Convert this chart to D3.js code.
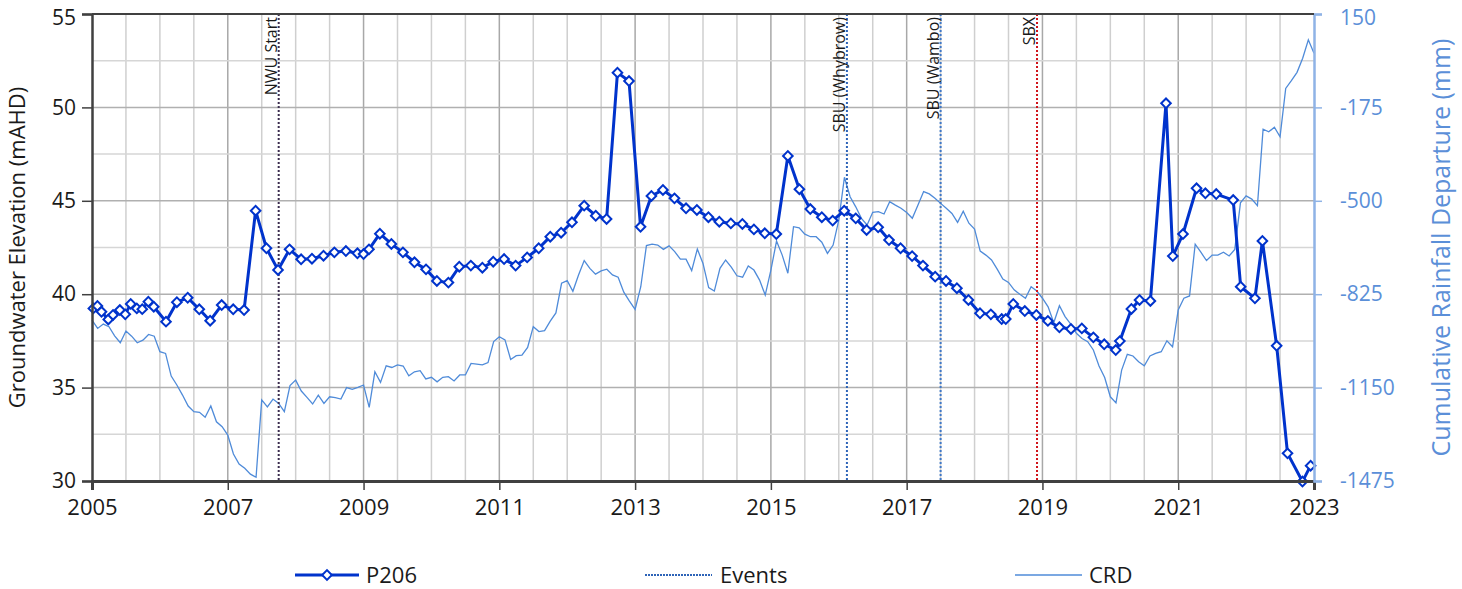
<!DOCTYPE html>
<html>
<head>
<meta charset="utf-8">
<script src="https://cdn.jsdelivr.net/npm/d3@7"></script>
<style>
  body { margin: 0; background: #fff; }
  text { font-family: "Open Sans", "Noto Sans", sans-serif; }
</style>
</head>
<body>
<svg id="chart"></svg>
<script>
// groundwater level at P206 (decimal year, mAHD)
const p206Dates = [
  2005.02, 2005.08, 2005.14, 2005.24, 2005.31, 2005.41, 2005.49, 2005.57, 2005.66, 2005.74, 2005.83, 2005.91,
  2006.09, 2006.25, 2006.41, 2006.58, 2006.74, 2006.91, 2007.08, 2007.24, 2007.41, 2007.57, 2007.74, 2007.91,
  2008.08, 2008.24, 2008.41, 2008.57, 2008.74, 2008.91, 2009.0, 2009.08, 2009.24, 2009.41, 2009.58, 2009.75,
  2009.92, 2010.08, 2010.25, 2010.41, 2010.58, 2010.75, 2010.91, 2011.07, 2011.24, 2011.41, 2011.58, 2011.75,
  2011.91, 2012.07, 2012.25, 2012.42, 2012.58, 2012.74, 2012.91, 2013.08, 2013.24, 2013.41, 2013.58, 2013.75,
  2013.91, 2014.08, 2014.24, 2014.41, 2014.58, 2014.75, 2014.91, 2015.08, 2015.25, 2015.42, 2015.58, 2015.75,
  2015.91, 2016.08, 2016.25, 2016.41, 2016.58, 2016.74, 2016.91, 2017.08, 2017.24, 2017.42, 2017.58, 2017.74,
  2017.91, 2018.08, 2018.24, 2018.40, 2018.46, 2018.57, 2018.74, 2018.91, 2019.08, 2019.25, 2019.42, 2019.58,
  2019.75, 2019.91, 2020.08, 2020.14, 2020.31, 2020.43, 2020.59, 2020.82, 2020.92, 2021.07, 2021.27, 2021.40,
  2021.56, 2021.81, 2021.92, 2022.13, 2022.24, 2022.45, 2022.61, 2022.83, 2022.95
];
const p206Values = [
  39.24, 39.37, 39.06, 38.65, 38.89, 39.15, 38.92, 39.48, 39.24, 39.2, 39.6, 39.33,
  38.53, 39.57, 39.81, 39.19, 38.58, 39.42, 39.19, 39.15, 44.47, 42.46, 41.3, 42.4,
  41.87, 41.9, 42.06, 42.24, 42.31, 42.19, 42.15, 42.4, 43.24, 42.69, 42.24, 41.71,
  41.33, 40.71, 40.62, 41.47, 41.53, 41.42, 41.74, 41.88, 41.53, 41.97, 42.46, 43.08,
  43.29, 43.85, 44.74, 44.2, 44.03, 51.86, 51.41, 43.61, 45.26, 45.58, 45.13, 44.6,
  44.51, 44.12, 43.88, 43.79, 43.76, 43.47, 43.26, 43.22, 47.4, 45.62, 44.56, 44.12,
  43.94, 44.47, 44.06, 43.44, 43.58, 42.9, 42.46, 42.04, 41.53, 40.94, 40.71, 40.32,
  39.69, 38.98, 38.92, 38.67, 38.67, 39.48, 39.1, 38.89, 38.57, 38.23, 38.14, 38.17,
  37.69, 37.32, 37.01, 37.49, 39.21, 39.69, 39.64, 50.22, 42.04, 43.22, 45.67, 45.4,
  45.36, 45.04, 40.4, 39.78, 42.85, 37.24, 31.48, 29.97, 30.82
];

// cumulative rainfall departure, monthly from Jan 2005 (mm)
const crdStartYear = 2005;
const crdValues = [
  -915, -944, -929, -938, -970, -994, -953, -971, -994, -985, -965, -971,
  -1025, -1031, -1110, -1141, -1176, -1214, -1234, -1236, -1253, -1214, -1269, -1286,
  -1315, -1381, -1416, -1431, -1451, -1462, -1193, -1217, -1190, -1205, -1234, -1143,
  -1124, -1162, -1184, -1207, -1176, -1205, -1182, -1185, -1190, -1150, -1156, -1149,
  -1141, -1219, -1095, -1132, -1074, -1080, -1071, -1075, -1109, -1095, -1091, -1120,
  -1114, -1130, -1114, -1112, -1127, -1106, -1106, -1066, -1068, -1071, -1063, -990,
  -973, -984, -1052, -1039, -1037, -1010, -938, -955, -952, -919, -890, -787,
  -778, -815, -758, -708, -735, -755, -744, -738, -758, -766, -818, -849,
  -878, -799, -656, -651, -654, -669, -657, -677, -703, -703, -743, -668,
  -718, -802, -814, -735, -706, -731, -761, -766, -727, -741, -776, -828,
  -741, -640, -689, -752, -590, -594, -616, -625, -625, -644, -683, -654,
  -567, -418, -486, -521, -561, -584, -540, -538, -546, -503, -515, -526,
  -541, -561, -515, -468, -476, -491, -509, -526, -544, -575, -536, -578,
  -598, -675, -689, -706, -738, -772, -784, -810, -825, -839, -799, -814,
  -839, -869, -924, -865, -903, -929, -961, -979, -990, -1019, -1075, -1115,
  -1182, -1203, -1089, -1034, -1040, -1060, -1074, -1040, -1031, -1025, -987, -1008,
  -880, -839, -831, -651, -679, -708, -689, -689, -679, -692, -669, -507,
  -483, -494, -517, -251, -260, -244, -277, -109, -82, -53, -4, 60,
  13
];

const eventNames = ["NWU Start", "SBU (Whybrow)", "SBU (Wambo)", "SBX"];
const eventDates = [2007.75, 2016.12, 2017.5, 2018.92];

const yearTicks = [2005, 2007, 2009, 2011, 2013, 2015, 2017, 2019, 2021, 2023];
const leftTicks = [30, 35, 40, 45, 50, 55];
const rightTicks = [-1475, -1150, -825, -500, -175, 150];

const width = 1462, height = 589;
const margin = { top: 14, right: 148, bottom: 108, left: 92 };
const eventColors = ['#3b2d4f', '#2e64b8', '#3f78c8', '#d0141a'];
const p206Color = '#0033cc';
const crdColor = '#4f8bd9';
const rightAxisColor = '#5b8fd8';
const tickFont = 21;

const svg = d3.select('#chart')
  .attr('width', width)
  .attr('height', height);

const x = d3.scaleLinear()
  .domain([2005, 2023])
  .range([margin.left, width - margin.right]);

const yLeft = d3.scaleLinear()
  .domain([30, 55])
  .range([height - margin.bottom, margin.top]);

const yRight = d3.scaleLinear()
  .domain([-1475, 150])
  .range([height - margin.bottom, margin.top]);

const plotTop = margin.top, plotBottom = height - margin.bottom;
const plotLeft = margin.left, plotRight = width - margin.right;

// gridlines
const grid = svg.append('g');
d3.range(2005.5, 2023, 0.5).forEach(yr => {
  const major = yearTicks.includes(yr);
  grid.append('line')
    .attr('x1', x(yr)).attr('x2', x(yr))
    .attr('y1', plotTop).attr('y2', plotBottom)
    .attr('stroke', major ? '#a8a8a8' : '#cfcfcf')
    .attr('stroke-width', 1.5);
});
d3.range(32.5, 55, 2.5).forEach(v => {
  const major = v % 5 === 0;
  grid.append('line')
    .attr('x1', plotLeft).attr('x2', plotRight)
    .attr('y1', yLeft(v)).attr('y2', yLeft(v))
    .attr('stroke', major ? '#b0b0b0' : '#d6d6d6')
    .attr('stroke-width', 1.5);
});

// CRD line
const crdData = crdValues.map((v, i) => ({ t: crdStartYear + i / 12, v }));
svg.append('path')
  .datum(crdData)
  .attr('fill', 'none')
  .attr('stroke', crdColor)
  .attr('stroke-width', 1.3)
  .attr('d', d3.line().x(d => x(d.t)).y(d => yRight(d.v)));

// event lines
const events = eventNames.map((name, i) => ({ name, t: eventDates[i], color: eventColors[i] }));
const ev = svg.append('g').selectAll('g')
  .data(events)
  .enter().append('g');

ev.append('line')
  .attr('x1', d => x(d.t)).attr('x2', d => x(d.t))
  .attr('y1', plotTop).attr('y2', plotBottom)
  .attr('stroke', d => d.color)
  .attr('stroke-width', 2)
  .attr('stroke-dasharray', '2,2');

ev.append('text')
  .attr('transform', d => `translate(${x(d.t) - 2}, ${plotTop + 3}) rotate(-90)`)
  .attr('text-anchor', 'end')
  .attr('font-size', 16)
  .attr('fill', '#1a1a1a')
  .text(d => d.name);

// P206 line and markers
const p206 = p206Values.map((v, i) => ({ t: p206Dates[i], v }));
svg.append('path')
  .datum(p206)
  .attr('fill', 'none')
  .attr('stroke', p206Color)
  .attr('stroke-width', 3)
  .attr('stroke-linejoin', 'round')
  .attr('d', d3.line().x(d => x(d.t)).y(d => yLeft(d.v)));

const diamond = d3.symbol().type(d3.symbolSquare).size(46);
svg.append('g').selectAll('path')
  .data(p206)
  .enter().append('path')
    .attr('d', diamond)
    .attr('transform', d => `translate(${x(d.t)}, ${yLeft(d.v)}) rotate(45)`)
    .attr('fill', '#fff')
    .attr('stroke', p206Color)
    .attr('stroke-width', 2);

// axes
const xAxis = svg.append('g')
  .attr('transform', `translate(0, ${plotBottom})`)
  .call(d3.axisBottom(x).tickValues(yearTicks).tickFormat(d => String(d)).tickSize(9).tickPadding(9));
xAxis.select('.domain').attr('stroke', '#404040').attr('stroke-width', 3);
xAxis.selectAll('.tick line').attr('stroke', '#404040').attr('stroke-width', 1.5);
xAxis.selectAll('.tick text').attr('font-size', tickFont + 1).attr('fill', '#1a1a1a')
  .attr('font-family', '"Open Sans", sans-serif');

const leftAxis = svg.append('g')
  .attr('transform', `translate(${plotLeft}, 0)`)
  .call(d3.axisLeft(yLeft).tickValues(leftTicks).tickFormat(d => String(d)).tickSize(10).tickPadding(6));
leftAxis.select('.domain').attr('stroke', '#404040').attr('stroke-width', 2.5);
leftAxis.selectAll('.tick line').attr('stroke', '#404040').attr('stroke-width', 1.5);
leftAxis.selectAll('.tick text').attr('font-size', tickFont).attr('fill', '#1a1a1a')
  .attr('font-family', '"Open Sans", sans-serif');

const rightAxis = svg.append('g')
  .attr('transform', `translate(${plotRight}, 0)`)
  .call(d3.axisRight(yRight).tickValues(rightTicks).tickFormat(d => String(d)).tickSize(8).tickPadding(18));
rightAxis.select('.domain').attr('stroke', '#8fb3e6').attr('stroke-width', 2.5);
rightAxis.selectAll('.tick line').attr('stroke', '#8fb3e6').attr('stroke-width', 1.5);
rightAxis.selectAll('.tick text').attr('font-size', tickFont).attr('fill', rightAxisColor)
  .attr('font-family', '"Open Sans", sans-serif');

// keep the topmost tick labels inside the page
leftAxis.selectAll('.tick text').filter(d => d === 55).attr('dy', '0.5em');
rightAxis.selectAll('.tick text').filter(d => d === 150).attr('dy', '0.5em');

// top frame
svg.append('line')
  .attr('x1', plotLeft).attr('x2', plotRight)
  .attr('y1', plotTop).attr('y2', plotTop)
  .attr('stroke', '#404040').attr('stroke-width', 2);

// axis titles
svg.append('text')
  .attr('transform', `translate(25, ${(plotTop + plotBottom) / 2}) rotate(-90)`)
  .attr('text-anchor', 'middle')
  .attr('font-size', 22)
  .attr('fill', '#1a1a1a')
  .text('Groundwater Elevation (mAHD)');

svg.append('text')
  .attr('transform', `translate(1450, ${(plotTop + plotBottom) / 2}) rotate(-90)`)
  .attr('text-anchor', 'middle')
  .attr('font-size', 25)
  .attr('fill', rightAxisColor)
  .text('Cumulative Rainfall Departure (mm)');

// legend
const legendY = 575;
const legend = svg.append('g');

legend.append('line')
  .attr('x1', 295).attr('x2', 359).attr('y1', legendY).attr('y2', legendY)
  .attr('stroke', p206Color).attr('stroke-width', 3);
legend.append('path')
  .attr('d', diamond)
  .attr('transform', `translate(327, ${legendY}) rotate(45)`)
  .attr('fill', '#fff').attr('stroke', p206Color).attr('stroke-width', 2);
legend.append('text')
  .attr('x', 366).attr('y', legendY + 8)
  .attr('font-size', 22).attr('fill', '#1a1a1a')
  .text('P206');

legend.append('line')
  .attr('x1', 645).attr('x2', 712).attr('y1', legendY).attr('y2', legendY)
  .attr('stroke', '#2e64b8').attr('stroke-width', 2).attr('stroke-dasharray', '2,1');
legend.append('text')
  .attr('x', 720).attr('y', legendY + 8)
  .attr('font-size', 22).attr('fill', '#1a1a1a')
  .text('Events');

legend.append('line')
  .attr('x1', 1015).attr('x2', 1082).attr('y1', legendY).attr('y2', legendY)
  .attr('stroke', crdColor).attr('stroke-width', 1.5);
legend.append('text')
  .attr('x', 1089).attr('y', legendY + 8)
  .attr('font-size', 22).attr('fill', '#1a1a1a')
  .text('CRD');
</script>
</body>
</html>
